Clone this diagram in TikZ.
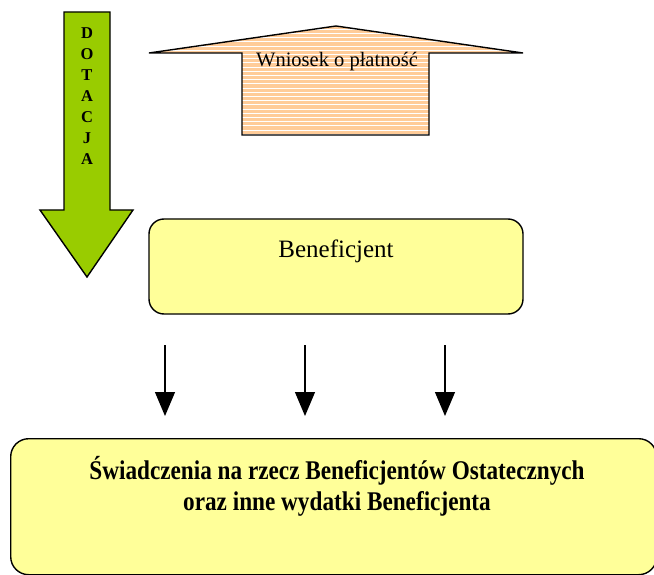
\documentclass[tikz,border=0pt]{standalone}
\usepackage{fontspec}
\usepackage{graphicx}
\setmainfont{Liberation Serif}
\definecolor{dgreen}{HTML}{99CC00}
\definecolor{peach}{HTML}{FFCC99}
\definecolor{lyellow}{HTML}{FFFF99}
\usetikzlibrary{arrows.meta}
\tikzset{
  outline/.style={draw=black, line width=1.4pt, line join=miter},
  smallarrow/.style={-{Triangle[width=20pt,length=24pt]}, line width=1.2pt},
  lbl/.style={inner sep=0pt, anchor=base},
  boldlbl/.style={lbl, font=\fontsize{27}{30}\selectfont\bfseries},
}
\begin{document}
\begin{tikzpicture}[x=1pt,y=-1pt]
\useasboundingbox (0,0) rectangle (654,575);
% green DOTACJA arrow
\draw[outline, fill=dgreen] (64,12) -- (110,12) -- (110,210) -- (133,210) -- (87,277) -- (40,210) -- (64,210) -- cycle;
\foreach \ch [count=\i] in {D,O,T,A,C,J,A}
  \node[lbl, font=\fontsize{16.5}{17}\selectfont\bfseries] (d\i) at (87,{39+(\i-1)*21}) {\ch};
% Wniosek arrow
\def\wpath{(242,135) -- (242,53) -- (149,53) -- (336,26) -- (523,53) -- (429,53) -- (429,135) -- cycle}
\fill[peach] \wpath;
\begin{scope}
  \clip \wpath;
  \foreach \yy in {29,33.2,...,136}
    \draw[white, line width=0.55pt] (140,\yy) -- (530,\yy);
\end{scope}
\draw[outline] \wpath;
\node[lbl, font=\fontsize{20.5}{22}\selectfont] (wn) at (337,67) {Wniosek o płatność};
% Beneficjent box
\node[outline, fill=lyellow, rounded corners=15pt, minimum width=374pt, minimum height=95pt, inner sep=0pt] (ben) at (336,266.5) {};
\node[lbl, font=\fontsize{25}{28}\selectfont] (bent) at (336,258) {Beneficjent};
% three arrows
\foreach \xx [count=\i] in {165,305,445} {
  \coordinate (s\i) at (\xx,345);
  \coordinate (e\i) at (\xx,416);
  \draw[smallarrow] (s\i) -- (e\i);
}
% bottom box
\node[outline, fill=lyellow, rounded corners=18pt, minimum width=646pt, minimum height=136pt, inner sep=0pt, anchor=north west] (sw) at (10,438) {};
\node[boldlbl] (swt1) at (337,479) {\scalebox{0.86}[1]{Świadczenia na rzecz Beneficjentów Ostatecznych}};
\node[boldlbl] (swt2) at (337,510) {\scalebox{0.86}[1]{oraz inne wydatki Beneficjenta}};
\end{tikzpicture}
\end{document}
